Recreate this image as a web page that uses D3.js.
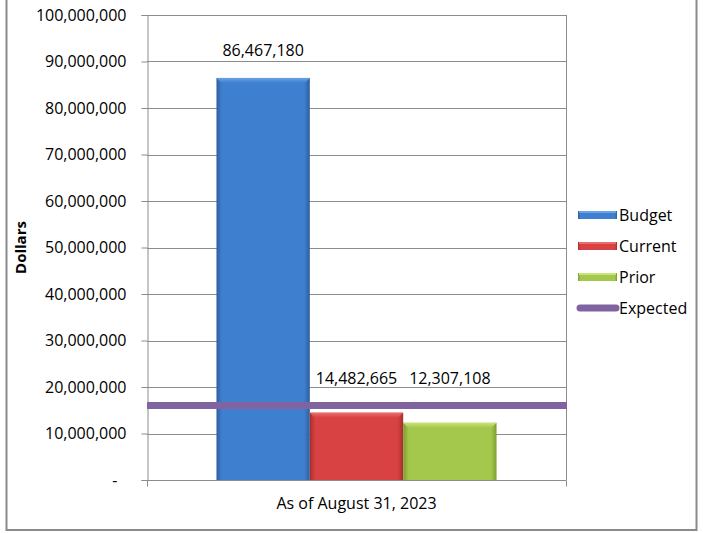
<!DOCTYPE html>
<html>
<head>
<meta charset="utf-8">
<script src="https://cdn.jsdelivr.net/npm/d3@7/dist/d3.min.js"></script>
<style>
  html, body { margin: 0; padding: 0; background: #fff; }
  svg { display: block; }
  text { font-family: "Open Sans", "Liberation Sans", sans-serif; fill: #000; }
</style>
</head>
<body>
<svg id="chart" width="703" height="533"></svg>
<script>
// Chart data
const categories = ["As of August 31, 2023"];
const seriesNames = ["Budget", "Current", "Prior"];
const seriesValues = [86467180, 14482665, 12307108];
const expectedName = "Expected";
const expectedValue = 16000000;
const yTicks = [0, 10000000, 20000000, 30000000, 40000000, 50000000, 60000000, 70000000, 80000000, 90000000, 100000000];
const yTitle = "Dollars";

// Bar colours: [edge, face, top bevel]
const barColors = {
  Budget:  ["#2d5f9e", "#3f7fcf", "#6aa2e6"],
  Current: ["#a52f2f", "#d84242", "#ea6d6d"],
  Prior:   ["#7d9c33", "#a4c84b", "#c8e57a"]
};
const expectedColor = "#8064a2";

const svg = d3.select("#chart");
const plot = { left: 147, right: 566, top: 15, bottom: 480 };
const FONT = "16px";

// Outer chart frame
svg.append("rect")
  .attr("x", 6.5).attr("y", -10)
  .attr("width", 690).attr("height", 540)
  .attr("fill", "#fff").attr("stroke", "#8a8a8a").attr("stroke-width", 2);

// Gradients
const defs = svg.append("defs");
seriesNames.forEach(name => {
  const [edge, face, top] = barColors[name];
  const g = defs.append("linearGradient").attr("id", "grad-" + name)
    .attr("x1", 0).attr("x2", 1).attr("y1", 0).attr("y2", 0);
  g.append("stop").attr("offset", 0).attr("stop-color", edge);
  g.append("stop").attr("offset", 0.06).attr("stop-color", face);
  g.append("stop").attr("offset", 0.94).attr("stop-color", face);
  g.append("stop").attr("offset", 1).attr("stop-color", edge);
  const gt = defs.append("linearGradient").attr("id", "top-" + name)
    .attr("x1", 0).attr("x2", 0).attr("y1", 0).attr("y2", 1);
  gt.append("stop").attr("offset", 0).attr("stop-color", top);
  gt.append("stop").attr("offset", 1).attr("stop-color", face);
});

// Scales
const y = d3.scaleLinear().domain([0, 100000000]).range([plot.bottom, plot.top]);
const x0 = d3.scaleBand().domain(categories).range([plot.left, plot.right])
  .paddingInner(0).paddingOuter(0.248);
const x1 = d3.scaleBand().domain(seriesNames).range([0, x0.bandwidth()]).padding(0);

// Gridlines
svg.append("g").selectAll("line").data(yTicks.filter(t => t > 0)).join("line")
  .attr("x1", plot.left).attr("x2", plot.right)
  .attr("y1", d => Math.round(y(d)) + 0.5).attr("y2", d => Math.round(y(d)) + 0.5)
  .attr("stroke", "#8c8c8c").attr("stroke-width", 1);

// Right border of plot area
svg.append("line")
  .attr("x1", plot.right + 0.5).attr("x2", plot.right + 0.5)
  .attr("y1", plot.top).attr("y2", plot.bottom)
  .attr("stroke", "#8c8c8c");

// Y axis
const fmt = d3.format(",");
const yAxis = d3.axisLeft(y).tickValues(yTicks).tickSize(6).tickPadding(15)
  .tickFormat(d => d === 0 ? "-" : fmt(d));
const yg = svg.append("g").attr("transform", `translate(${plot.left + 0.5},0)`).call(yAxis);
yg.select(".domain").attr("stroke", "#8c8c8c");
yg.selectAll(".tick line").attr("stroke", "#8c8c8c");
yg.selectAll(".tick text").attr("font-size", FONT)
  .attr("font-family", "'Open Sans', sans-serif");
yg.selectAll(".tick text").filter(d => d === 0).attr("x", -30);

// X axis
const xAxis = d3.axisBottom(x0).tickSize(0).tickPadding(17);
const xg = svg.append("g").attr("transform", `translate(0,${plot.bottom + 0.5})`).call(xAxis);
xg.select(".domain").attr("stroke", "#8c8c8c").attr("d", `M${plot.left},0H${plot.right + 0.5}`);
xg.selectAll(".tick text").attr("font-size", FONT)
  .attr("font-family", "'Open Sans', sans-serif");
// Category boundary ticks
xg.selectAll(".edge").data(x0.range()).join("line").attr("class", "edge")
  .attr("x1", d => d + 0.5).attr("x2", d => d + 0.5).attr("y1", 0).attr("y2", 6)
  .attr("stroke", "#8c8c8c");

// Bars
const bars = svg.append("g").selectAll("g").data(seriesNames.map((n, i) => ({ name: n, value: seriesValues[i], cat: categories[0] })))
  .join("g");
bars.append("rect")
  .attr("x", d => x0(d.cat) + x1(d.name))
  .attr("y", d => y(d.value))
  .attr("width", x1.bandwidth())
  .attr("height", d => y(0) - y(d.value))
  .attr("fill", d => `url(#grad-${d.name})`);
bars.append("path")
  .attr("d", d => {
    const xl = x0(d.cat) + x1(d.name), xr = xl + x1.bandwidth(), yt = y(d.value), b = 5;
    return `M${xl},${yt}H${xr}L${xr - b},${yt + b}H${xl + b}Z`;
  })
  .attr("fill", d => `url(#top-${d.name})`);

// Expected line
svg.append("line")
  .attr("x1", plot.left).attr("x2", plot.right + 1)
  .attr("y1", y(expectedValue)).attr("y2", y(expectedValue))
  .attr("stroke", expectedColor).attr("stroke-width", 7);

// Data labels, lifted clear of the expected line
bars.append("text")
  .attr("x", d => x0(d.cat) + x1(d.name) + x1.bandwidth() / 2)
  .attr("y", d => Math.min(y(d.value), y(expectedValue)) - 28)
  .attr("text-anchor", "middle").attr("dominant-baseline", "central")
  .attr("font-size", FONT)
  .text(d => fmt(d.value));

// Y axis title
svg.append("text")
  .attr("transform", `translate(26,${(plot.top + plot.bottom) / 2}) rotate(-90)`)
  .attr("text-anchor", "middle")
  .attr("font-size", "15px").attr("font-weight", "bold")
  .text(yTitle);

// Legend
const legendItems = seriesNames.concat([expectedName]);
const lg = svg.append("g").attr("transform", "translate(578,215)");
const li = lg.selectAll("g").data(legendItems).join("g")
  .attr("transform", (d, i) => `translate(0,${i * 31})`);
li.each(function (d) {
  const g = d3.select(this);
  if (d === expectedName) {
    g.append("line").attr("x1", 2).attr("x2", 38).attr("y1", 0).attr("y2", 0)
      .attr("stroke", expectedColor).attr("stroke-width", 7).attr("stroke-linecap", "round");
  } else {
    g.append("rect").attr("x", 0).attr("y", -4).attr("width", 39).attr("height", 8)
      .attr("fill", `url(#grad-${d})`);
    g.append("rect").attr("x", 1).attr("y", -4).attr("width", 37).attr("height", 2)
      .attr("fill", barColors[d][2]);
  }
});
li.append("text").attr("x", 41).attr("y", 0)
  .attr("dominant-baseline", "central").attr("font-size", FONT)
  .text(d => d);
</script>
</body>
</html>
